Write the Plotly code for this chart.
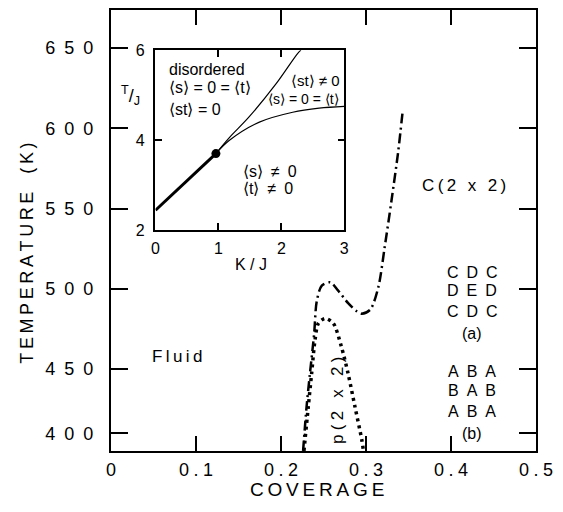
import plotly.graph_objects as go

# ---------------- data ----------------
# main panel: c(2x2) boundary (dash-dot) and p(2x2) dome (dotted)
coverage_c2x2 = [0.226, 0.230, 0.234, 0.239, 0.242, 0.248, 0.258, 0.267, 0.279,
                 0.289, 0.295, 0.305, 0.3145, 0.322, 0.330, 0.338, 0.343]
temp_c2x2 = [399, 426, 447, 472, 492, 502, 504, 499, 491,
             486, 484.5, 487, 501, 526, 555, 586, 610]

coverage_p2x2 = [0.227, 0.232, 0.236, 0.240, 0.244, 0.252, 0.2615, 0.271,
                 0.279, 0.287, 0.295, 0.297]
temp_p2x2 = [399, 426, 447, 468, 478.5, 481.5, 478.5, 464, 447, 426.5, 406, 399]

# inset: T/J versus K/J
inset_k_thick = [0.0, 0.96]
inset_t_thick = [2.44, 3.70]
inset_k_upper = [0.96, 1.17, 1.49, 1.92, 2.26, 2.31]
inset_t_upper = [3.70, 4.05, 4.52, 5.26, 5.93, 6.0]
inset_k_lower = [0.96, 1.17, 1.65, 2.18, 2.60, 3.0]
inset_t_lower = [3.70, 3.99, 4.40, 4.62, 4.71, 4.75]
multicritical_k = [0.96]
multicritical_t = [3.70]

# tick labels
x_tick_values = [0, 0.1, 0.2, 0.3, 0.4, 0.5]
x_tick_labels = ["0", "0.1", "0.2", "0.3", "0.4", "0.5"]
y_tick_values = [410, 450, 500, 550, 600, 650]
y_tick_labels = ["400", "450", "500", "550", "600", "650"]
inset_x_ticks = [0, 1, 2, 3]
inset_y_ticks = [2, 4, 6]

FONT = "Liberation Sans, Arial, sans-serif"


def spaced(s, sep="\u2009"):
    return sep.join(list(s))


fig = go.Figure()

fig.add_trace(go.Scatter(x=coverage_c2x2, y=temp_c2x2, mode="lines",
                         line=dict(color="black", width=2.5, dash="10px,4px,2px,4px",
                                   shape="spline", smoothing=0.8),
                         showlegend=False, hoverinfo="skip"))
fig.add_trace(go.Scatter(x=coverage_p2x2, y=temp_p2x2, mode="lines",
                         line=dict(color="black", width=3.5, dash="3px,4px",
                                   shape="spline", smoothing=0.8),
                         showlegend=False, hoverinfo="skip"))

# inset traces
fig.add_trace(go.Scatter(x=inset_k_thick, y=inset_t_thick, mode="lines",
                         line=dict(color="black", width=3),
                         xaxis="x2", yaxis="y2", showlegend=False, hoverinfo="skip"))
fig.add_trace(go.Scatter(x=inset_k_upper, y=inset_t_upper, mode="lines",
                         line=dict(color="black", width=1.2, shape="spline"),
                         xaxis="x2", yaxis="y2", showlegend=False, hoverinfo="skip"))
fig.add_trace(go.Scatter(x=inset_k_lower, y=inset_t_lower, mode="lines",
                         line=dict(color="black", width=1.2, shape="spline"),
                         xaxis="x2", yaxis="y2", showlegend=False, hoverinfo="skip"))
fig.add_trace(go.Scatter(x=multicritical_k, y=multicritical_t, mode="markers",
                         marker=dict(color="black", size=9),
                         xaxis="x2", yaxis="y2", showlegend=False, hoverinfo="skip"))

axis_common = dict(showgrid=False, zeroline=False, showline=True, linecolor="black",
                   ticks="inside", tickcolor="black", mirror="ticks", automargin=False)

fig.update_layout(
    width=563, height=512,
    margin=dict(l=111, r=27, t=10, b=61),
    paper_bgcolor="white", plot_bgcolor="white",
    font=dict(family=FONT, color="black"),
    xaxis=dict(**axis_common, range=[0, 0.5], linewidth=2, tickwidth=2, ticklen=15,
               tickvals=x_tick_values,
               ticktext=[spaced(t, "\u2005") for t in x_tick_labels],
               tickfont=dict(size=18, family=FONT), ticklabelstandoff=1, domain=[0, 1]),
    yaxis=dict(**axis_common, range=[398.9, 673.7], linewidth=2, tickwidth=2, ticklen=17,
               tickvals=y_tick_values,
               ticktext=[spaced(t, "\u2002") for t in y_tick_labels],
               tickfont=dict(size=18, family=FONT), ticklabelstandoff=12, domain=[0, 1]),
    xaxis2=dict(**axis_common, range=[0, 3], linewidth=1.5, tickwidth=1.5, ticklen=7,
                tickvals=inset_x_ticks, tickfont=dict(size=16, family=FONT),
                ticklabelstandoff=3, domain=[0.1047, 0.549], anchor="y2"),
    yaxis2=dict(**axis_common, range=[2, 6], linewidth=1.5, tickwidth=1.5, ticklen=7,
                tickvals=inset_y_ticks, tickfont=dict(size=16, family=FONT),
                ticklabelstandoff=6, domain=[0.501, 0.909], anchor="x2"),
)

ann = []


def text(x, y, s, size=16, xref="x", yref="y", xanchor="center", angle=0):
    ann.append(dict(x=x, y=y, xref=xref, yref=yref, text=s, showarrow=False,
                    xanchor=xanchor, yanchor="middle", textangle=angle,
                    font=dict(size=size, family=FONT, color="black")))


# main-panel labels
text(0.078, 457.5, spaced("Fluid"), 17)
text(0.267, 430.7, spaced("p(2 x 2)", "\u2005"), 17, angle=-90)
text(0.415, 564.6, spaced("C(2 x 2)"), 17)
for lbl, t in [("C D C", 510.4), ("D E D", 499.2), ("C D C", 485.7), ("(a)", 472.4),
               ("A B A", 448.3), ("B A B", 436.9), ("A B A", 423.4), ("(b)", 409.5)]:
    text(0.425, t, lbl.replace(" ", "\u2002"), 16)

# axis titles
text(0.485, -0.088, spaced("COVERAGE"), 19, xref="paper", yref="paper")
text(-0.197, 0.448, spaced("TEMPERATURE") + "\u2003" + spaced("(K)"), 18,
     xref="paper", yref="paper", angle=-90)

# inset labels
text(0.18, 5.56, "disordered", 16, xref="x2", yref="y2", xanchor="left")
text(0.18, 5.18, "⟨s⟩ = 0 = ⟨t⟩", 16, xref="x2", yref="y2", xanchor="left")
text(0.18, 4.69, "⟨st⟩ = 0", 16, xref="x2", yref="y2", xanchor="left")
text(2.97, 5.33, "⟨st⟩ ≠ 0", 15, xref="x2", yref="y2", xanchor="right")
text(2.94, 4.91, "⟨s⟩ = 0 = ⟨t⟩", 14, xref="x2", yref="y2", xanchor="right")
text(1.36, 3.30, "⟨s⟩\u2002≠\u20020", 16, xref="x2", yref="y2", xanchor="left")
text(1.36, 2.93, "⟨t⟩\u2002≠\u20020", 16, xref="x2", yref="y2", xanchor="left")
text(0.329, 0.423, "K / J", 16, xref="paper", yref="paper")
text(0.045, 0.806, "<sup>T</sup>/<sub>J</sub>", 18, xref="paper", yref="paper")

fig.update_layout(annotations=ann)

fig.write_html("out.html", config={"displayModeBar": False},
               post_script="document.body.style.margin='0px';")
